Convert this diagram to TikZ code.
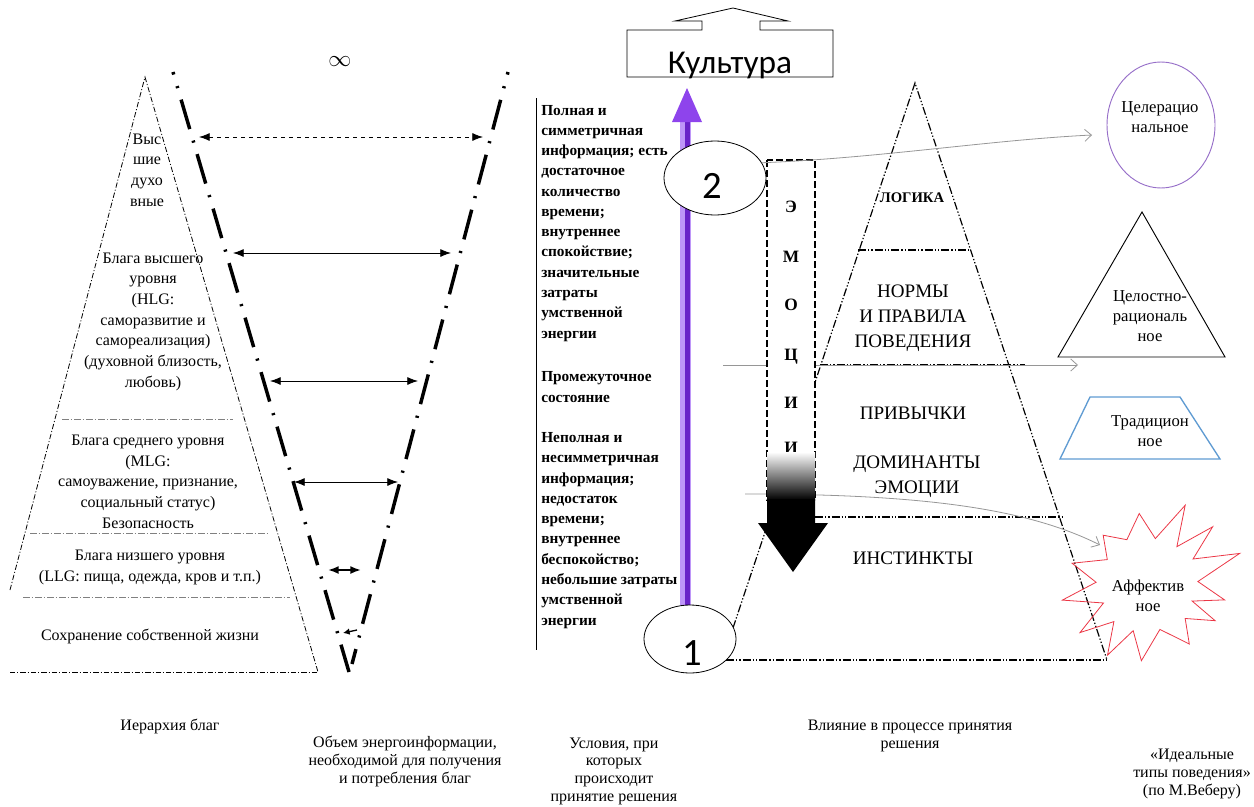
\documentclass[tikz,border=0pt]{standalone}
\usepackage{fontspec}
\setmainfont{Liberation Serif}
\newfontfamily\calfont{Carlito}
\usetikzlibrary{calc}
\usetikzlibrary{arrows.meta}
\usetikzlibrary{shapes.geometric}

\definecolor{arrviolet}{RGB}{142,68,236}
\definecolor{arrvioletdk}{RGB}{105,35,200}
\definecolor{arrvioletlt}{RGB}{190,150,248}
\definecolor{circviolet}{RGB}{150,110,200}
\definecolor{trapblue}{RGB}{95,155,210}
\definecolor{starred}{RGB}{235,55,70}
\definecolor{hintgray}{RGB}{150,150,150}

\begin{document}
\begin{tikzpicture}[x=0.75pt,y=-0.75pt,
  lptext/.style={align=center,anchor=base,inner sep=0pt,font=\fontsize{12}{15.5}\selectfont},
  midtext/.style={align=left,anchor=base west,inner sep=0pt,font=\bfseries\fontsize{11.5}{15.2}\selectfont},
  rptext/.style={align=center,anchor=base,inner sep=0pt,font=\fontsize{14.3}{18.5}\selectfont},
  emo/.style={anchor=base,inner sep=0pt,font=\bfseries\fontsize{13}{13}\selectfont},
  tytext/.style={align=center,anchor=base,inner sep=0pt,font=\fontsize{12.5}{15}\selectfont},
  captext/.style={align=center,anchor=base,inner sep=0pt,font=\fontsize{12}{13.2}\selectfont},
  pyr/.style={line width=0.6pt,dash pattern=on 4pt off 1.5pt on 0.8pt off 1.5pt},
  divline/.style={line width=0.6pt,gray,dash pattern=on 5pt off 1.5pt on 1pt off 1.5pt},
  cone/.style={line width=2.6pt,dash pattern=on 23pt off 9pt on 1.6pt off 9pt,dash phase=21pt},
  rpyr/.style={line width=0.9pt,dash pattern=on 6pt off 1.5pt on 1pt off 1.5pt on 1pt off 1.5pt},
  gap/.style={line width=0.6pt,{Latex[length=8pt,width=6pt]}-{Latex[length=8pt,width=6pt]}},
  hint/.style={line width=0.6pt,hintgray,-{Straight Barb[length=5pt,width=9pt]}},
  numell/.style={draw,ellipse,fill=white,line width=0.6pt,inner sep=0pt},
  numtext/.style={anchor=base,inner sep=0pt,font=\calfont\fontsize{29}{29}\selectfont}]
\useasboundingbox (0,0) rectangle (1254,807);

% hierarchy of goods (multi-line nodes sit on their last baseline)
\coordinate (lptop) at (145,77);
\coordinate (lpleft) at (10,590);
\coordinate (lpbl) at (10,672);
\coordinate (lpbr) at (318,672);
\draw[pyr] (lpleft) -- (lptop) -- (lpbr);
\draw[pyr] (lpbl) -- (lpbr);
\draw[divline] (62,419) -- (233,419);
\draw[divline] (30,533) -- (268,533);
\draw[divline] (23,597) -- (290,597);

\node[lptext] (lpa) at (147,206) {Выс\\шие\\духо\\вные};
\node[lptext] (lpb) at (153,387) {Блага высшего\\уровня\\(HLG:\\саморазвитие и\\самореализация)\\(духовной близость,\\любовь)};
\node[lptext] (lpc) at (148,528) {Блага среднего уровня\\(MLG:\\самоуважение, признание,\\социальный статус)\\Безопасность};
\node[lptext] (lpd) at (150,581) {Блага низшего уровня\\(LLG: пища, одежда, кров и т.п.)};
\node[lptext] (lpe) at (150,640) {Сохранение собственной жизни};

% energy-information cone
\coordinate (vl0) at (173,72);
\coordinate (vl1) at (349,672);
\coordinate (vr0) at (508,72);
\coordinate (vr1) at (352,664);
\draw[cone] (vl0) -- (vl1);
\draw[cone] (vr0) -- (vr1);
\node[font=\fontsize{17}{17}\selectfont] (inf) at (340,62) {$\infty$};

\coordinate (gl1) at (199,137);
\coordinate (gr1) at (483,137);
\coordinate (gl2) at (233,253);
\coordinate (gr2) at (451,253);
\coordinate (gl3) at (270,381);
\coordinate (gr3) at (418,381);
\coordinate (gl4) at (294,482);
\coordinate (gr4) at (398,482);
\coordinate (gl5) at (328,570);
\coordinate (gr5) at (361,570);
\coordinate (gs6) at (357,630);
\coordinate (ge6) at (343,633);
\draw[gap,dashed] (gl1) -- (gr1);
\foreach \i in {2,3,4}
  \draw[gap] (gl\i) -- (gr\i);
\draw[gap,line width=1.4pt] (gl5) -- (gr5);
\draw[line width=1pt,-{Latex[length=5pt,width=5pt]}] (gs6) -- (ge6);

% conditions
\draw[line width=0.7pt] (536,98) -- (536,650);
\node[midtext] (ma) at (541,338) {Полная и\\симметричная\\информация; есть\\достаточное\\количество\\времени;\\внутреннее\\спокойствие;\\значительные\\затраты\\умственной\\энергии};
\node[midtext] (mb) at (541,402) {Промежуточное\\состояние};
\node[midtext] (mc) at (541,625) {Неполная и\\несимметричная\\информация;\\недостаток\\времени;\\внутреннее\\беспокойство;\\небольшие затраты\\умственной\\энергии};

% decision pyramid
\coordinate (rtop) at (915,83);
\coordinate (rleft) at (733,628);
\coordinate (rbl) at (726,660);
\coordinate (rbr) at (1107,660);
\draw[rpyr] (rleft) -- (rtop) -- (rbr);
\draw[rpyr] (rbl) -- (rbr);
\draw[rpyr] (858,250) -- (970,250);
\draw[rpyr] (820,365) -- (1025,365);
\draw[rpyr] (815,517) -- (1062,517);

\coordinate (h1e) at (1092,135);
\coordinate (h2s) at (723,365);
\coordinate (h2e) at (1078,365);
\coordinate (h3s) at (745,494);
\coordinate (h3e) at (1100,545);
\draw[hint] (h2s) -- (h2e);
\draw[hint] (h3s) .. controls (930,494) and (1030,510) .. (h3e);

% emotions
\draw[line width=0.9pt,dash pattern=on 5pt off 2.5pt,fill=white] (767,160) rectangle (815,500);
\foreach \l/\y [count=\i] in {Э/212,М/262,О/310,Ц/360,И/408,И/453}
  \node[emo] (emo\i) at (791,\y) {\l};
\shade[top color=white,bottom color=black] (767,452) rectangle (815,500);
\fill[black] (767,499) -- (815,499) -- (815,523) -- (828,523) -- (793,572) -- (758,523) -- (767,523) -- cycle;

% culture arrow
\fill[arrvioletlt] (680,120) rectangle (691,606);
\fill[arrvioletdk] (685,120) rectangle (690,606);
\fill[arrviolet] (687,88) -- (702,122) -- (672,122) -- cycle;

\node[numell,minimum width=76.5pt,minimum height=55.5pt] (e2) at (715,178) {};
\node[numtext] (n2) at (712,198) {2};
\node[numell,minimum width=69pt,minimum height=51pt] (e1) at (690,639) {};
\node[numtext] (n1) at (692,665) {1};
\draw[hint] (e2.18) .. controls (880,158) and (990,140) .. (h1e);

\draw[line width=0.6pt] (627,30) -- (702,30) -- (702,21) -- (675,21) -- (733,8) -- (788,21) -- (760,21) -- (760,30) -- (833,30) -- (833,77) -- (627,77) -- cycle;
\node[anchor=base,inner sep=0pt,font=\calfont\fontsize{25}{25}\selectfont] (cult) at (730,73) {Культура};

\node[rptext,font=\bfseries\fontsize{11}{13}\selectfont] (logic) at (912,202) {ЛОГИКА};
\node[rptext] (norms) at (913,347) {НОРМЫ\\И ПРАВИЛА\\ПОВЕДЕНИЯ};
\node[rptext] (habits) at (913,419) {ПРИВЫЧКИ};
\node[rptext] (domin) at (917,493) {ДОМИНАНТЫ\\ЭМОЦИИ};
\node[rptext] (instinct) at (913,564) {ИНСТИНКТЫ};

% ideal types
\node[draw=circviolet,line width=0.7pt,ellipse,minimum width=81pt,minimum height=94.5pt] (celer) at (1161,125) {};
\node[tytext] (t1) at (1160,132) {Целерацио\\нальное};
\draw[line width=0.7pt] (1142,212) -- (1225,357) -- (1058,357) -- cycle;
\node[tytext] (t2) at (1150,341) {Целостно-\\рациональ\\ное};
\draw[trapblue,line width=1pt] (1090,397) -- (1180,397) -- (1220,459) -- (1060,459) -- cycle;
\node[tytext] (t3) at (1150,446) {Традицион\\ное};
\draw[starred,line width=0.6pt,shift={(1148,585)}] (-65:88)
  \foreach \a/\r in {-53/48,-42/87,-30/52,-19/97,-4/50,11/78,20/47,28/76,42/50,55/72,75/46,95/76,108/48,120/81,133/50,145/83,158/48,170/87,-177/52,-164/79,-148/48,-132/67,-115/50,-97/72,-81/47}
  { -- (\a:\r) } -- cycle;
\node[tytext] (t4) at (1148,611) {Аффектив\\ное};

% captions
\node[captext] (c1) at (170,730) {Иерархия благ};
\node[captext] (c2) at (405,783) {Объем энергоинформации,\\необходимой для получения\\и потребления благ};
\node[captext] (c3) at (614,801) {Условия, при\\которых\\происходит\\принятие решения};
\node[captext] (c4) at (910,748) {Влияние в процессе принятия\\решения};
\node[captext] (c5) at (1192,795) {«Идеальные\\типы поведения»\\(по М.Веберу)};
\end{tikzpicture}
\end{document}
